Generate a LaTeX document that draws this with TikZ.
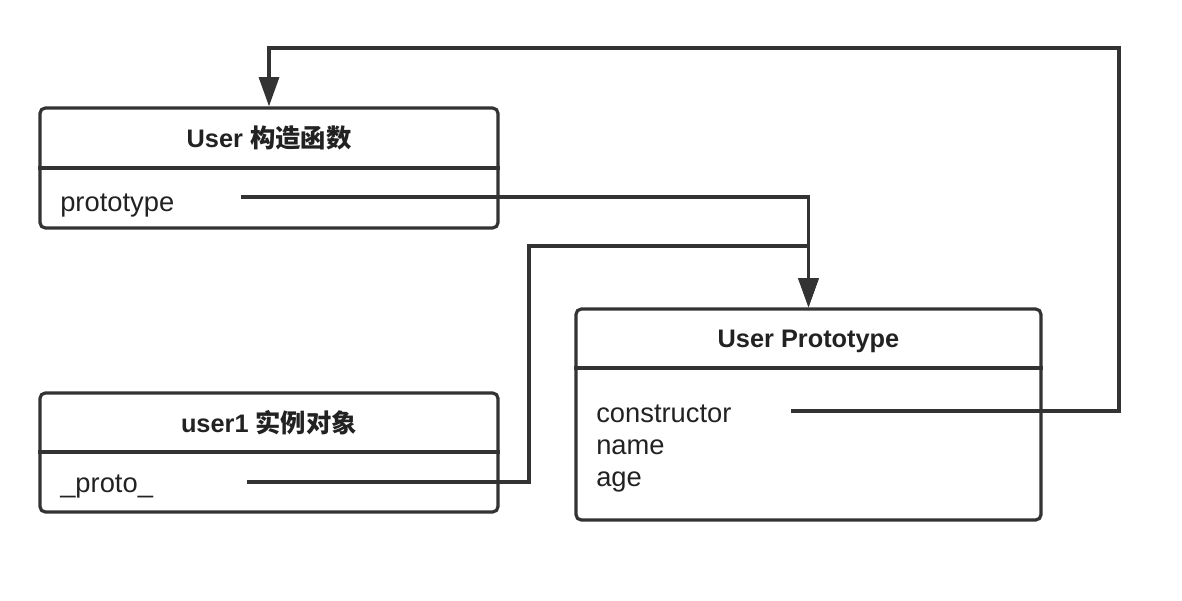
\documentclass[tikz,border=0pt]{standalone}
\usepackage{fontspec}
\setmainfont{Liberation Sans}
\newfontfamily\cjk{Noto Sans CJK SC}
\usetikzlibrary{arrows.meta,fit}
\definecolor{ink}{HTML}{333333}
\definecolor{txt}{HTML}{222222}
\begin{document}
\begin{tikzpicture}[x=0.75pt,y=-0.75pt,
  box/.style={draw=ink,line width=2.4pt,rounded corners=4pt,inner sep=0pt,fill=white},
  divider/.style={draw=ink,line width=2.4pt},
  conn/.style={draw=ink,line width=2.5pt},
  arr/.style={conn,-{Triangle[width=15pt,length=22pt]}},
  title/.style={anchor=base,inner sep=0pt,text=txt,font=\fontsize{19pt}{22pt}\selectfont\bfseries},
  field/.style={anchor=base west,inner sep=0pt,text=txt,font=\fontsize{20.5pt}{24pt}\selectfont}]
\useasboundingbox[fill=white] (0,0) rectangle (1182,600);
% boxes
\coordinate (b1tl) at (40,108); \coordinate (b1br) at (498,228);
\coordinate (b2tl) at (40,393); \coordinate (b2br) at (498,512);
\coordinate (b3tl) at (576,309); \coordinate (b3br) at (1041,520);
\node[box,fit=(b1tl)(b1br)] (b1) {};
\node[box,fit=(b2tl)(b2br)] (b2) {};
\node[box,fit=(b3tl)(b3br)] (b3) {};
\draw[divider] (b1.west |- 0,168) -- (b1.east |- 0,168);
\draw[divider] (b2.west |- 0,452) -- (b2.east |- 0,452);
\draw[divider] (b3.west |- 0,368) -- (b3.east |- 0,368);
% texts
\node[title] (t1) at (269,147) {User {\cjk\bfseries 构造函数}};
\node[field] (f1) at (60,211) {prototype};
\node[title] (t2) at (269,432) {user1 {\cjk\bfseries 实例对象}};
\node[field] (f2) at (60,492) {\_proto\_};
\node[title] (t3) at (808.5,347) {User Prototype};
\node[field] (f3) at (596,422) {constructor};
\node[field] (f4) at (596,454) {name};
\node[field] (f5) at (596,486) {age};
% connector start points
\coordinate (s1) at (241,197);
\coordinate (s2) at (247,482);
\coordinate (s3) at (791,411);
\coordinate (k2) at (529,246);
\coordinate (k3) at (1119,48);
% connectors
\draw[arr] (s1) -| (b3.north);
\draw[arr] (s2) -| (k2) -| (b3.north);
\draw[arr] (s3) -| (k3) -| (b1.north);
\end{tikzpicture}
\end{document}
